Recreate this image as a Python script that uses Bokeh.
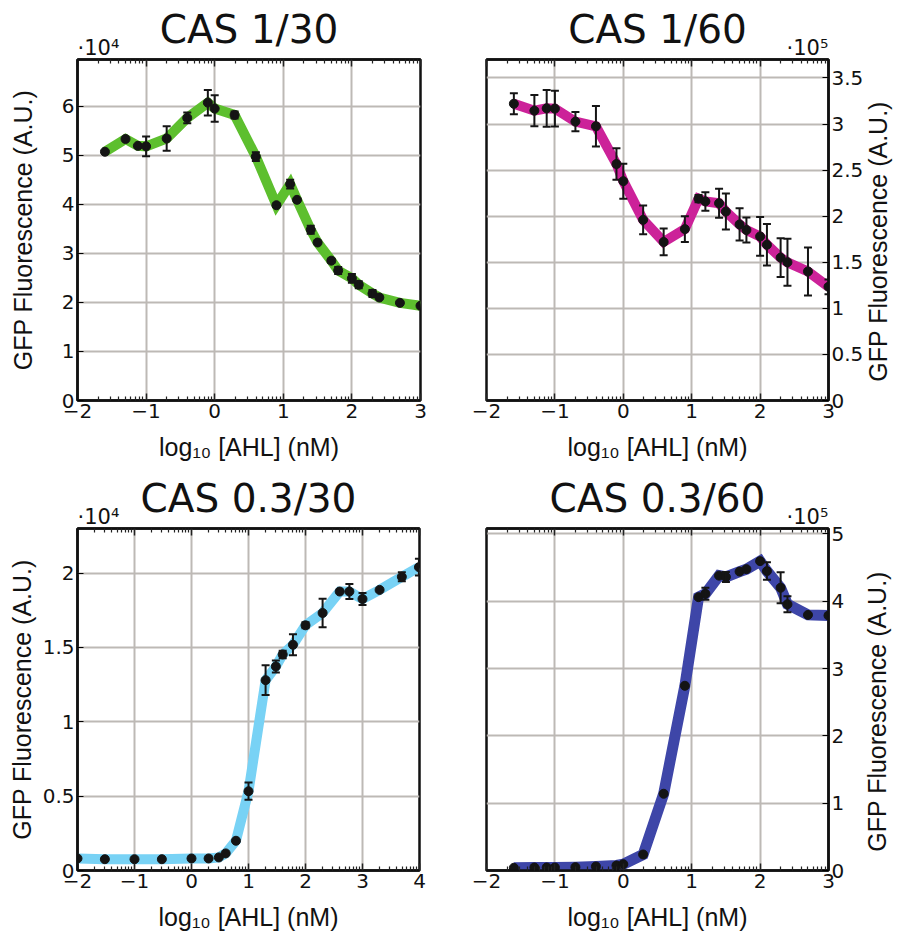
from bokeh.plotting import figure
from bokeh.models import (Range1d, FixedTicker, LinearAxis, ColumnDataSource, Whisker,
                          TeeHead, CustomJSTickFormatter)
from bokeh.layouts import row, column
from bokeh.embed import file_html
from bokeh.resources import INLINE
import math

# ---------------- data (log10 [AHL] nM, GFP in displayed units) ----------------
# CAS 1/30  (x 10^4)
x_1_30 = [-1.6, -1.3, -1.12, -1.0, -0.7, -0.4, -0.1, 0.0, 0.29, 0.6, 0.9, 1.1, 1.2,
          1.4, 1.5, 1.7, 1.8, 2.0, 2.1, 2.3, 2.4, 2.7, 3.0]
y_1_30 = [5.07, 5.33, 5.19, 5.18, 5.34, 5.76, 6.07, 5.95, 5.82, 4.97, 3.98, 4.41, 4.09,
          3.48, 3.22, 2.85, 2.65, 2.49, 2.36, 2.18, 2.10, 1.99, 1.93]
e_1_30 = [0, 0, 0, 0.2, 0.25, 0.11, 0.26, 0.27, 0.07, 0.09, 0.03, 0.09, 0,
          0.08, 0, 0.04, 0.07, 0.09, 0.07, 0.07, 0, 0, 0]

# CAS 1/60  (x 10^5)
x_1_60 = [-1.6, -1.3, -1.12, -1.0, -0.7, -0.4, -0.1, 0.0, 0.29, 0.59, 0.9, 1.1, 1.2,
          1.4, 1.5, 1.7, 1.8, 2.0, 2.1, 2.3, 2.4, 2.7, 3.0]
y_1_60 = [3.22, 3.145, 3.17, 3.167, 3.026, 2.975, 2.566, 2.38, 1.96, 1.72, 1.86, 2.19, 2.16,
          2.14, 2.05, 1.91, 1.85, 1.78, 1.69, 1.55, 1.50, 1.40, 1.234]
e_1_60 = [0.115, 0.17, 0.2, 0.195, 0.105, 0.22, 0.17, 0.19, 0.155, 0.145, 0.14, 0.04, 0.1,
          0.157, 0.195, 0.175, 0.135, 0.21, 0.225, 0.21, 0.255, 0.26, 0.08]

# CAS 0.3/30  (x 10^4)
x_03_30 = [-2.0, -1.52, -1.0, -0.52, 0.0, 0.3, 0.48, 0.6, 0.78, 1.0, 1.3, 1.48, 1.6,
           1.78, 2.0, 2.3, 2.6, 2.77, 3.0, 3.3, 3.69, 3.99]
y_03_30 = [0.081, 0.076, 0.076, 0.076, 0.081, 0.081, 0.088, 0.115, 0.20, 0.533, 1.28, 1.372,
           1.453, 1.518, 1.649, 1.732, 1.876, 1.876, 1.826, 1.887, 1.975, 2.04]
e_03_30 = [0, 0, 0, 0, 0, 0, 0, 0, 0, 0.058, 0.10, 0.04, 0.025,
           0.07, 0.02, 0.096, 0, 0.05, 0.04, 0, 0.03, 0.056]

# CAS 0.3/60  (x 10^5)
x_03_60 = [-1.6, -1.3, -1.12, -1.0, -0.7, -0.4, -0.1, 0.0, 0.29, 0.59, 0.9, 1.1, 1.2,
           1.4, 1.5, 1.7, 1.8, 2.0, 2.1, 2.3, 2.4, 2.7, 3.0]
y_03_60 = [0.04, 0.045, 0.045, 0.045, 0.05, 0.06, 0.074, 0.094, 0.238, 1.14, 2.744, 4.06, 4.11,
           4.38, 4.36, 4.44, 4.476, 4.595, 4.447, 4.20, 3.955, 3.797, 3.787]
e_03_60 = [0, 0, 0, 0, 0, 0, 0, 0, 0, 0, 0, 0, 0.09,
           0, 0.075, 0, 0, 0, 0.13, 0.23, 0.12, 0, 0]

titles = ["CAS 1/30", "CAS 1/60", "CAS 0.3/30", "CAS 0.3/60"]
multipliers = ["\u00b710\u2074", "\u00b710\u2075", "\u00b710\u2074", "\u00b710\u2075"]
y_ticks_1_30 = [0, 1, 2, 3, 4, 5, 6]
y_ticks_1_60 = [0, 0.5, 1, 1.5, 2, 2.5, 3, 3.5]
y_ticks_03_30 = [0, 0.5, 1, 1.5, 2]
y_ticks_03_60 = [0, 1, 2, 3, 4, 5]
y_label = "GFP Fluorescence (A.U.)"
x_label = "log\u2081\u2080 [AHL] (nM)"

FMT = CustomJSTickFormatter(code="""
var v = Math.round(tick*1000)/1000;
return (v < 0 ? '\\u2212' : '') + String(Math.abs(v));
""")
EMPTY = CustomJSTickFormatter(code="return '';")

TICK_FONT = "DejaVu Sans"
LABEL_FONT = "Liberation Sans"
EN = "\u2002"


def x_ticker(x_end):
    majors = list(range(-2, x_end + 1))
    minors = []
    for n in range(-2, x_end):
        for k in range(2, 10):
            minors.append(n + math.log10(k))
    return FixedTicker(ticks=majors, minor_ticks=minors)


def try_set(obj, name, values):
    for v in values:
        try:
            setattr(obj, name, v)
            return
        except Exception:
            pass


def panel(title, mult, xs, ys, es, color, lw, x_end, y_end, y_ticks, side,
          borders, fw, fh, ylab_standoff):
    bl, br, bt, bb = borders
    p = figure(frame_width=fw, frame_height=fh,
               x_range=Range1d(-2, x_end), y_range=Range1d(0, y_end),
               x_axis_location="below", y_axis_location=side,
               output_backend="svg", toolbar_location=None,
               min_border_left=bl, min_border_right=br,
               min_border_top=bt, min_border_bottom=bb,
               title=title)
    p.background_fill_color = "white"
    p.border_fill_color = "white"
    p.outline_line_color = "#111111"
    p.outline_line_width = 2.5

    p.title.align = "center"
    p.title.text_font = TICK_FONT
    p.title.text_font_size = "39px"
    p.title.text_font_style = "normal"
    p.title.text_color = "#111111"
    p.title.standoff = -38

    tk = x_ticker(x_end)
    xa = p.xaxis[0]
    xa.ticker = tk
    xa.formatter = FMT
    top = LinearAxis(ticker=tk, formatter=EMPTY)
    p.add_layout(top, "above")
    for ax in (xa, top):
        ax.major_tick_in = 7
        ax.major_tick_out = 0
        ax.minor_tick_in = 4
        ax.minor_tick_out = 0
        ax.major_tick_line_width = 1.5
        ax.minor_tick_line_width = 1.2
        ax.major_tick_line_color = "#222222"
        ax.minor_tick_line_color = "#222222"
        ax.axis_line_width = 2.5
        ax.axis_line_color = "#111111"
        ax.major_label_text_font = TICK_FONT
        ax.major_label_text_font_size = "20px"
        ax.major_label_text_color = "#111111"
        ax.major_label_standoff = 3
    top.major_label_text_font_size = "1px"
    top.major_label_standoff = 0
    # power-of-ten multiplier shown above the frame corner
    top.axis_label = (EN * 4 + mult) if side == "left" else (mult + EN * 4)
    top.axis_label_text_font = TICK_FONT
    top.axis_label_text_font_size = "21px"
    top.axis_label_text_font_style = "normal"
    top.axis_label_text_color = "#111111"
    top.axis_label_standoff = 0
    try_set(top, "axis_label_align", ["start"] if side == "left" else ["end"])

    xa.axis_label = x_label
    xa.axis_label_text_font = LABEL_FONT
    xa.axis_label_text_font_size = "25px"
    xa.axis_label_text_font_style = "normal"
    xa.axis_label_text_color = "#111111"
    xa.axis_label_standoff = 12

    ya = p.yaxis[0]
    ya.ticker = FixedTicker(ticks=y_ticks)
    ya.formatter = FMT
    ya.major_tick_in = 6
    ya.major_tick_out = 0
    ya.minor_tick_in = 0
    ya.minor_tick_out = 0
    ya.axis_line_width = 2.5
    ya.axis_line_color = "#111111"
    ya.major_label_text_font = TICK_FONT
    ya.major_label_text_font_size = "20px"
    ya.major_label_text_color = "#111111"
    ya.major_label_standoff = 3
    ya.axis_label = y_label
    ya.axis_label_text_font = LABEL_FONT
    ya.axis_label_text_font_size = "25px"
    ya.axis_label_text_font_style = "normal"
    ya.axis_label_text_color = "#111111"
    ya.axis_label_standoff = ylab_standoff
    if side == "right":
        # read bottom-to-top like the left-hand labels
        ya.axis_label = "\u2002\u2005" + y_label
        try_set(ya, "axis_label_orientation", [math.pi / 2])
        try_set(ya, "axis_label_align", ["start"])

    for g in p.grid:
        g.grid_line_color = "#bdb9b5"
        g.grid_line_width = 2

    p.line(xs, ys, line_width=lw, line_color=color, line_join="miter")

    wx = [x for x, e in zip(xs, es) if e > 0]
    wu = [y + e for y, e in zip(ys, es) if e > 0]
    wl = [y - e for y, e in zip(ys, es) if e > 0]
    src = ColumnDataSource(data=dict(x=wx, upper=wu, lower=wl))
    w = Whisker(source=src, base="x", upper="upper", lower="lower",
                line_color="#151515", line_width=2, level="glyph",
                upper_head=TeeHead(size=8, line_width=2, line_color="#151515"),
                lower_head=TeeHead(size=8, line_width=2, line_color="#151515"))
    p.add_layout(w)

    p.scatter(xs, ys, size=9, fill_color="#141414", line_color="#141414")
    return p


p1 = panel(titles[0], multipliers[0], x_1_30, y_1_30, e_1_30, "#5dbf2e", 10, 3, 6.95,
           y_ticks_1_30, "left", (77, 32, 59, 68), 343, 341, 22)
p2 = panel(titles[1], multipliers[1], x_1_60, y_1_60, e_1_60, "#cc2299", 10, 3, 3.7,
           y_ticks_1_60, "right", (34, 76, 59, 68), 342, 341, 12)
p3 = panel(titles[2], multipliers[2], x_03_30, y_03_30, e_03_30, "#78d2f5", 10, 4, 2.3,
           y_ticks_03_30, "left", (77, 33, 60, 64), 342, 342, 4)
p4 = panel(titles[3], multipliers[3], x_03_60, y_03_60, e_03_60, "#3e46a8", 11, 3, 5.08,
           y_ticks_03_60, "right", (34, 76, 60, 64), 342, 342, 30)

layout = column(row(p1, p2), row(p3, p4))
open("out.html", "w").write(file_html(layout, INLINE))
